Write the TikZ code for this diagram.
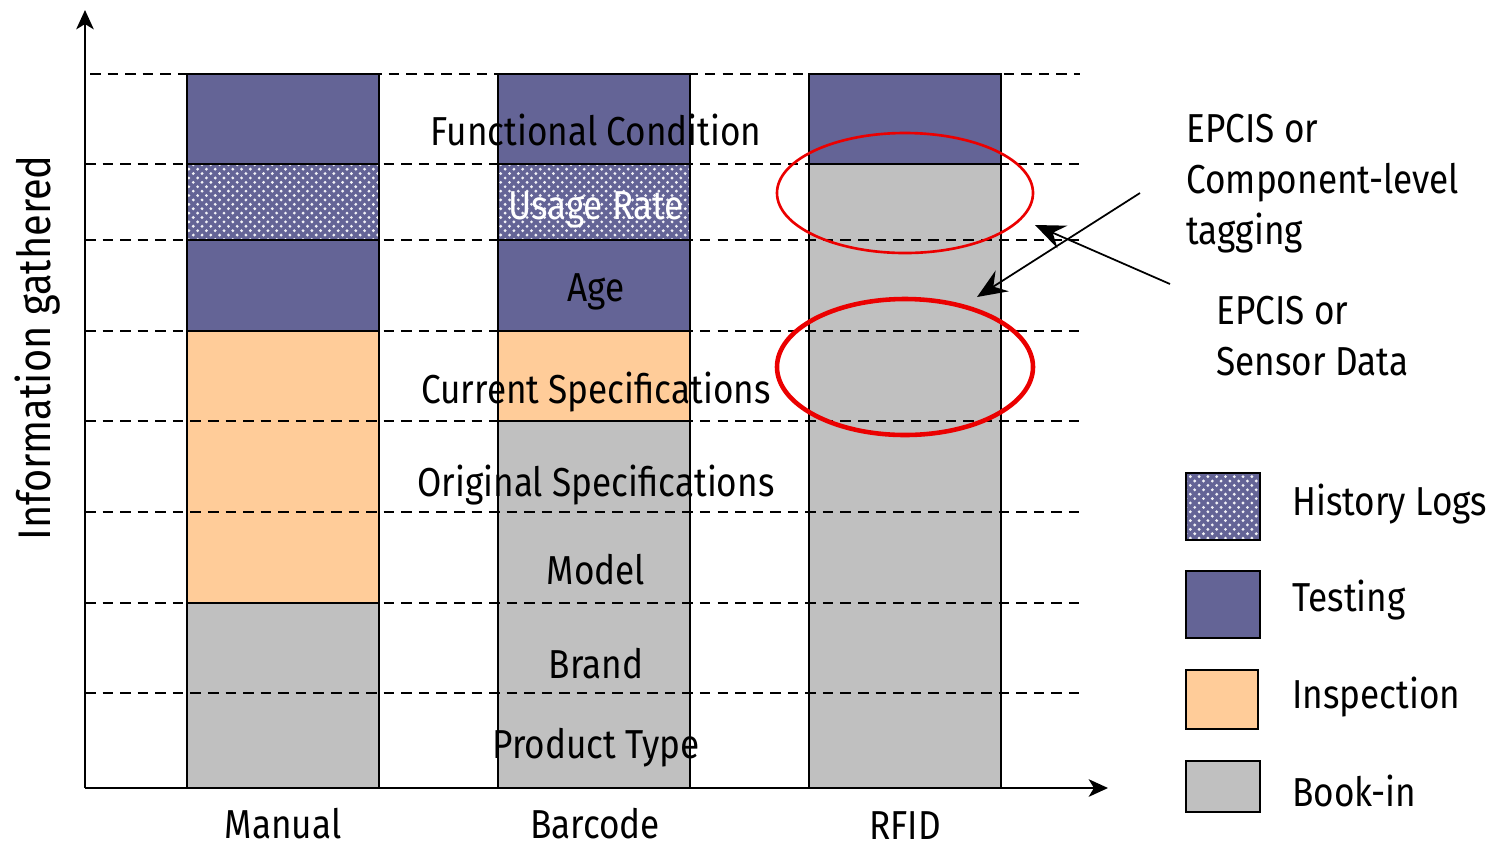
\documentclass[tikz,border=0pt]{standalone}
\usepackage{fontspec}
\setmainfont{Fira Sans}[FakeStretch=0.87]
\usetikzlibrary{arrows.meta,patterns.meta}
\definecolor{testing}{RGB}{100,100,150}
\definecolor{inspect}{RGB}{255,204,153}
\definecolor{bookin}{RGB}{192,192,192}
\definecolor{ellred}{RGB}{235,0,0}
\tikzset{
  seg/.style={draw=black, line width=1pt},
  grid/.style={dashed, dash pattern=on 6pt off 4pt, line width=0.9pt},
  lbl/.style={font=\fontsize{23}{28}\selectfont, inner sep=0pt},
  axis/.style={line width=1.2pt, -{Stealth[length=11pt,width=10pt,inset=3pt]}},
  callout/.style={line width=1pt, -{Stealth[length=17pt,width=14pt,inset=6pt]}},
  dotfill/.style={pattern={Dots[distance=5pt,radius=0.9pt]}, pattern color=white!92!testing},
  dotfillb/.style={pattern={Dots[distance=5pt,radius=0.9pt,xshift=2.5pt,yshift=2.5pt]}, pattern color=white!92!testing},
}
\newcommand{\hist}[4]{%
  \fill[testing] (#1,#2) rectangle (#3,#4);
  \fill[dotfill] (#1,#2) rectangle (#3,#4);
  \fill[dotfillb] (#1,#2) rectangle (#3,#4);
  \draw[seg] (#1,#2) rectangle (#3,#4);}
\begin{document}
\begin{tikzpicture}[x=0.02cm,y=-0.02cm]
\useasboundingbox (0,0) rectangle (1494,850);
% Manual bar
\draw[seg, fill=bookin] (187,603) rectangle (379,788);
\draw[seg, fill=inspect] (187,331) rectangle (379,603);
\draw[seg, fill=testing] (187,240) rectangle (379,331);
\hist{187}{164}{379}{240}
\draw[seg, fill=testing] (187,74) rectangle (379,164);
% Barcode bar
\draw[seg, fill=bookin] (498,421) rectangle (690,788);
\draw[seg, fill=inspect] (498,331) rectangle (690,421);
\draw[seg, fill=testing] (498,240) rectangle (690,331);
\hist{498}{164}{690}{240}
\draw[seg, fill=testing] (498,74) rectangle (690,164);
% RFID bar
\draw[seg, fill=bookin] (809,164) rectangle (1001,788);
\draw[seg, fill=testing] (809,74) rectangle (1001,164);
% grid lines
\foreach \y/\x in {74/90,164/85,240/85,331/85,421/85,512/85,603/85,693/85}
  \draw[grid] (\x,\y) -- (1080,\y);
% axes
\coordinate (origin) at (85,788);
\coordinate (ytip) at (85,10);
\coordinate (xtip) at (1108,788);
\draw[axis] (origin) -- (ytip);
\draw[axis] (origin) -- (xtip);
% row labels
\node[lbl] (fc) at (596,130) {Functional Condition};
\node[lbl, text=white] (ur) at (596,210) {Usage Rate};
\node[lbl] (age) at (596,292) {Age};
\node[lbl] (cs) at (596,392) {Current Specifications};
\node[lbl] (os) at (596,485) {Original Specifications};
\node[lbl] (mo) at (596,570) {Model};
\node[lbl] (br) at (596,664) {Brand};
\node[lbl] (pt) at (596,748) {Product Type};
% column labels
\node[lbl] (man) at (283,824) {Manual};
\node[lbl] (bar) at (595,824) {Barcode};
\node[lbl] (rfid) at (905,826) {RFID};
% y label
\node[lbl, rotate=90, font=\fontsize{26}{30}\selectfont] (ylab) at (38,348) {Information gathered};
% ellipses
\draw[ellred, line width=1.5pt] (905,193) ellipse [x radius=128, y radius=60];
\draw[ellred, line width=2.6pt] (905,367) ellipse [x radius=128, y radius=68];
% callout text
\node[lbl, anchor=north west, align=left, font=\fontsize{23}{29}\selectfont] (t1) at (1186,114) {EPCIS or\\Component-level\\tagging};
\node[lbl, anchor=north west, align=left, font=\fontsize{23}{29}\selectfont] (t2) at (1216,296) {EPCIS or\\Sensor Data};
% callout arrows
\coordinate (s1) at (1140,193);
\coordinate (e1) at (977,297);
\coordinate (s2) at (1170,284);
\coordinate (e2) at (1035,225);
\draw[callout] (s1) -- (e1);
\draw[callout] (s2) -- (e2);
% legend
\hist{1186}{473}{1260}{540}
\draw[seg, fill=testing] (1186,571) rectangle (1260,638);
\draw[seg, fill=inspect] (1186,670) rectangle (1258,729);
\draw[seg, fill=bookin] (1186,761) rectangle (1260,812);
\node[lbl, anchor=west] (lh) at (1292,504) {History Logs};
\node[lbl, anchor=west] (lt) at (1292,600) {Testing};
\node[lbl, anchor=west] (li) at (1292,697) {Inspection};
\node[lbl, anchor=west] (lb) at (1292,791) {Book-in};
\end{tikzpicture}
\end{document}
